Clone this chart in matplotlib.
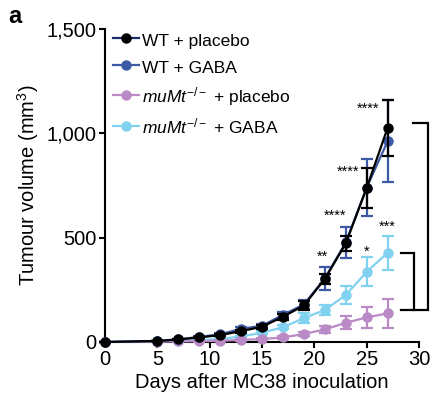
import matplotlib.pyplot as plt
import numpy as np

plt.rcParams['font.family'] = ['Liberation Sans', 'DejaVu Sans']
plt.rcParams['mathtext.fontset'] = 'custom'
plt.rcParams['mathtext.rm'] = 'Liberation Sans'
plt.rcParams['mathtext.it'] = 'Liberation Sans:italic'

days = [0, 5, 7, 9, 11, 13, 15, 17, 19, 21, 23, 25, 27]

wt_placebo = [0, 5, 12, 22, 33, 52, 73, 121, 175, 302, 472, 738, 1026]
wt_placebo_err = [0, 2, 3, 4, 5, 7, 9, 14, 20, 25, 38, 98, 135]
wt_gaba = [0, 5, 13, 24, 37, 63, 78, 130, 180, 305, 477, 740, 962]
wt_gaba_err = [0, 2, 3, 4, 6, 8, 10, 15, 22, 55, 74, 138, 196]
mumt_placebo = [0, 2, 3, 4, 6, 10, 14, 22, 38, 60, 92, 118, 137]
mumt_placebo_err = [0, 1, 1, 2, 2, 3, 4, 6, 10, 15, 32, 50, 70]
mumt_gaba = [0, 3, 6, 9, 15, 26, 45, 70, 115, 153, 225, 336, 428]
mumt_gaba_err = [0, 1, 2, 3, 4, 5, 8, 10, 25, 22, 43, 70, 82]

labels = ['WT + placebo', 'WT + GABA',
          r'$\mathit{muMt}^{\mathit{-/-}}$ + placebo',
          r'$\mathit{muMt}^{\mathit{-/-}}$ + GABA']
colors = ['#000000', '#3d5aa6', '#b98ac6', '#80d2f0']

# significance stars: (text, day, volume)
stars = [('****', 25.15, 1132), ('****', 23.2, 830), ('****', 21.95, 623),
         ('**', 20.75, 424), ('*', 25.0, 448), ('***', 26.95, 570)]

fig = plt.figure(figsize=(4.48, 4.11), dpi=100)
ax = fig.add_axes([0.2344, 0.1679, 0.7009, 0.7616])

series = [(wt_placebo, wt_placebo_err), (wt_gaba, wt_gaba_err),
          (mumt_placebo, mumt_placebo_err), (mumt_gaba, mumt_gaba_err)]
for i in [2, 3, 1, 0]:
    vals, err = series[i]
    h = ax.errorbar(days, vals, yerr=err, color=colors[i], marker='o', markersize=6.5,
                    linewidth=1.6, elinewidth=1.6, capsize=4, capthick=1.6,
                    clip_on=False, zorder=3 + (3 - i))
    for art in h.lines[1] + h.lines[2]:
        art.set_clip_on(False)

legend_handles = []
for i in range(4):
    line, = ax.plot([], [], color=colors[i], marker='o', markersize=6.5, linewidth=1.6)
    legend_handles.append(line)
legend_handles[0].set_color('#1a2a6a')
legend_handles[0].set_markerfacecolor('black')
legend_handles[0].set_markeredgecolor('black')

# tall handle box so plain and mathtext rows get the same height
ax.legend(legend_handles, labels, loc='upper left', bbox_to_anchor=(0.025, 0.995),
          frameon=False, fontsize=12.5, handlelength=1.5, handletextpad=0.2,
          handleheight=1.3, labelspacing=0.48, borderpad=0, borderaxespad=0)

for txt, x, y in stars:
    ax.text(x, y - 35, txt, ha='center', va='baseline', fontsize=10.5)

# brackets
ax.plot([29.4, 30.85, 30.85, 29.4], [1048, 1048, 153, 153], color='black', lw=1.6,
        clip_on=False, solid_joinstyle='miter')
ax.plot([28.3, 29.5, 29.5, 28.3], [427, 427, 153, 153], color='black', lw=1.6,
        clip_on=False, solid_joinstyle='miter')

ax.set_xlim(0, 30)
ax.set_ylim(0, 1500)
ax.set_xticks([0, 5, 10, 15, 20, 25, 30])
ax.set_yticks([0, 500, 1000, 1500])
ax.set_yticklabels(['0', '500', '1,000', '1,500'])
ax.spines['top'].set_visible(False)
ax.spines['right'].set_visible(False)
ax.spines['left'].set_linewidth(1.5)
ax.spines['bottom'].set_linewidth(1.5)
ax.tick_params(width=1.5, length=4, labelsize=14.5, pad=2)
ax.set_xlabel('Days after MC38 inoculation', fontsize=14.5, labelpad=3)
ax.set_ylabel('Tumour volume (mm$^{3}$)', fontsize=14.5, labelpad=4)

fig.text(0.018, 0.945, 'a', fontsize=17, fontweight='bold')

fig.savefig('out.png', dpi=100)
